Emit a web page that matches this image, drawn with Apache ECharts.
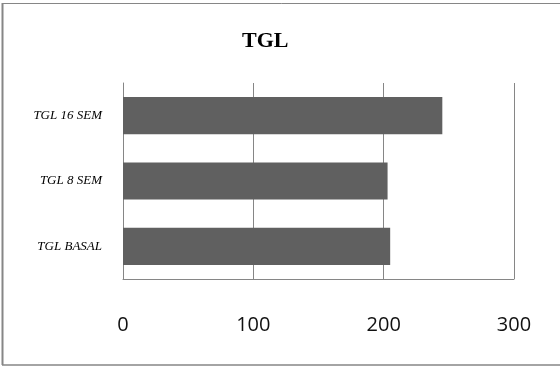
<!DOCTYPE html>
<html>
<head>
<meta charset="utf-8">
<style>
  html, body { margin: 0; padding: 0; background: #fff; }
  #chart { width: 560px; height: 366px; }
</style>
<script src="https://cdn.jsdelivr.net/npm/echarts@6/dist/echarts.min.js"></script>
</head>
<body>
<div id="chart"></div>
<script>
// Triglyceride levels at baseline, 8 and 16 weeks
const categories = ['TGL BASAL', 'TGL 8 SEM', 'TGL 16 SEM'];
const values = [205, 203, 245];
const xTicks = [0, 100, 200, 300];

const chart = echarts.init(document.getElementById('chart'), null, { renderer: 'canvas' });
const axisGray = '#868686';

chart.setOption({
  animation: false,
  backgroundColor: '#ffffff',
  title: {
    text: 'TGL',
    left: 237,
    top: 25,
    textStyle: {
      fontFamily: 'Liberation Serif',
      fontWeight: 'bold',
      fontSize: 22,
      color: '#000'
    }
  },
  grid: { left: 123, right: 46, top: 83, bottom: 87, containLabel: false },
  xAxis: {
    type: 'value',
    min: xTicks[0],
    max: xTicks[xTicks.length - 1],
    interval: 100,
    axisLine: { show: true, lineStyle: { color: axisGray, width: 1 } },
    axisTick: { show: false },
    splitLine: { show: true, lineStyle: { color: axisGray, width: 1 } },
    axisLabel: {
      margin: 36,
      fontFamily: 'Open Sans',
      fontSize: 20,
      color: '#111'
    }
  },
  yAxis: {
    type: 'category',
    data: categories,
    axisLine: { show: true, lineStyle: { color: axisGray, width: 1 } },
    axisTick: { show: false },
    axisLabel: {
      margin: 21,
      fontFamily: 'Liberation Serif',
      fontStyle: 'italic',
      fontSize: 13,
      color: '#000'
    }
  },
  series: [{
    type: 'bar',
    data: values,
    barCategoryGap: '43%',
    itemStyle: { color: '#606060' }
  }],
  graphic: [
    { type: 'line', shape: { x1: 2.5, y1: 3.5, x2: 560, y2: 3.5 }, style: { stroke: axisGray, lineWidth: 1 } },
    { type: 'line', shape: { x1: 2.5, y1: 3, x2: 2.5, y2: 365 }, style: { stroke: axisGray, lineWidth: 2 } },
    { type: 'line', shape: { x1: 2, y1: 365, x2: 560, y2: 365 }, style: { stroke: axisGray, lineWidth: 1.5 } }
  ]
});
</script>
</body>
</html>
